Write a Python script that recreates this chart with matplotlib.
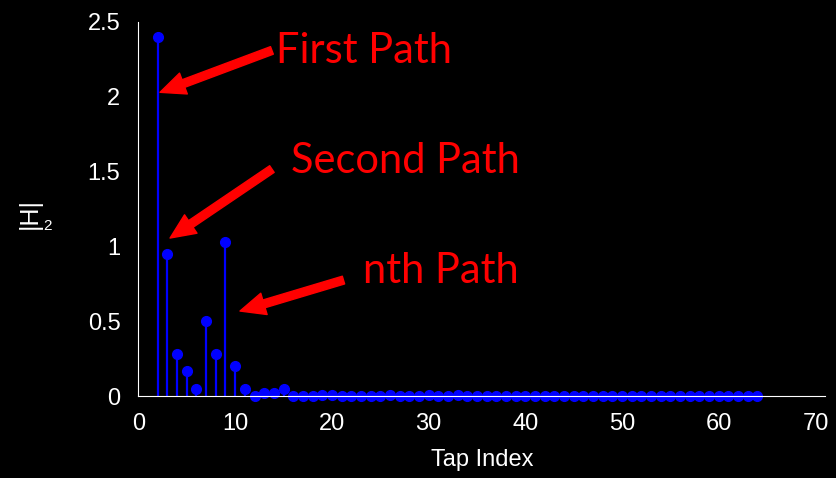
import matplotlib.pyplot as plt

# channel impulse response power |H|^2 per tap (taps 2..64)
taps = list(range(2, 65))
power = [
    2.40, 0.95, 0.28, 0.17, 0.05, 0.50, 0.28, 1.03, 0.20, 0.05,    # 2-11
    0.00, 0.02, 0.02, 0.045, 0.00, 0.00, 0.00, 0.008, 0.008, 0.00, # 12-21
    0.00, 0.00, 0.00, 0.00, 0.008, 0.00, 0.00, 0.00, 0.006, 0.00,  # 22-31
    0.00, 0.006, 0.00, 0.00, 0.00, 0.00, 0.00, 0.00, 0.00, 0.00,   # 32-41
    0.00, 0.00, 0.00, 0.00, 0.00, 0.00, 0.00, 0.00, 0.00, 0.00,    # 42-51
    0.00, 0.00, 0.00, 0.00, 0.00, 0.00, 0.00, 0.00, 0.00, 0.00,    # 52-61
    0.00, 0.00, 0.00,                                              # 62-64
]

xticks = [0, 10, 20, 30, 40, 50, 60, 70]
yticks = [0, 0.5, 1, 1.5, 2, 2.5]
ytick_labels = ['0', '0.5', '1', '1.5', '2', '2.5']

# annotations: label, arrow tip, arrow tail, text anchor (data coords)
notes = ['First Path', 'Second Path', 'nth Path']
tips = [(2.23, 2.03), (3.27, 1.056), (10.5, 0.568)]
tails = [(13.8, 2.31), (13.8, 1.517), (21.2, 0.775)]
text_pos = [(14.2, 2.225), (15.8, 1.49), (23.2, 0.755)]

plt.rcParams['font.family'] = ['Liberation Sans', 'DejaVu Sans']

fig = plt.figure(figsize=(8.36, 4.78), dpi=100, facecolor='black')
ax = fig.add_axes([0.1656, 0.1715, 0.8214, 0.7825])
ax.set_facecolor('black')

markerline, stemlines, baseline = ax.stem(taps, power, linefmt='-', markerfmt='o', basefmt=' ')
plt.setp(stemlines, color='#0000ff', linewidth=1.6)
plt.setp(markerline, color='#0000ff', markersize=7,
         markerfacecolor='#0000ff', markeredgecolor='#0000ff', markeredgewidth=1)
markerline.set_clip_on(False)

ax.set_xlim(0, 71)
ax.set_ylim(0, 2.5)
ax.set_xticks(xticks)
ax.set_yticks(yticks)
ax.set_yticklabels(ytick_labels)
ax.tick_params(axis='both', length=0, colors='white', labelsize=17)
ax.tick_params(axis='y', pad=13)
ax.tick_params(axis='x', pad=12)

for side in ['top', 'right']:
    ax.spines[side].set_visible(False)
for side in ['left', 'bottom']:
    ax.spines[side].set_color('white')
    ax.spines[side].set_linewidth(0.8)
    ax.spines[side].set_zorder(3)

ax.set_xlabel('Tap Index', color='white', fontsize=17, labelpad=10)
ax.text(-0.159, 0.487, '|H|', rotation=90, ha='center', va='center',
        color='white', fontsize=18, transform=ax.transAxes)
ax.text(-0.133, 0.455, '2', ha='center', va='center',
        color='white', fontsize=11, transform=ax.transAxes)

for label, tip, tail, pos in zip(notes, tips, tails, text_pos):
    ax.annotate('', xy=tip, xytext=tail,
                arrowprops=dict(arrowstyle='simple,head_length=0.9,head_width=0.8,tail_width=0.29',
                                color='#ff0000', mutation_scale=20, shrinkA=0, shrinkB=0))
    ax.text(pos[0], pos[1], label, color='#ff0000', fontsize=30,
            family='Lato', ha='left', va='baseline')

fig.savefig('out.png', dpi=100, facecolor='black')
